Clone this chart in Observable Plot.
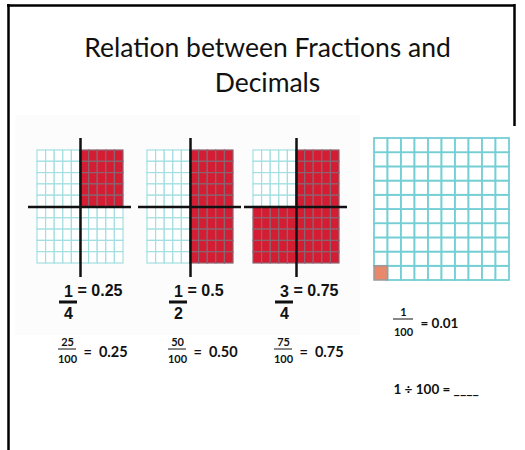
<!DOCTYPE html>
<html><head><meta charset="utf-8">
<script src="https://cdn.jsdelivr.net/npm/d3@7"></script>
<script src="https://cdn.jsdelivr.net/npm/@observablehq/plot@0.6"></script>
<style>html,body{margin:0;padding:0;background:#fff;} #chart svg{display:block}</style>
</head><body><div id="chart"></div>
<script>
// ---- data ----
const titleLines = ["Relation between Fractions and", "Decimals"];
const numerators = [1, 1, 3];
const denominators = [4, 2, 4];
const decimals = ["0.25", "0.5", "0.75"];
const hundredths = [25, 50, 75];
const hundredthDecimals = ["0.25", "0.50", "0.75"];
const shadedQuadrants = [["TR"], ["TR", "BR"], ["TR", "BR", "BL"]];
const bigNumerator = 1;
const bigDenominator = 100;
const bigDecimal = "0.01";
const bigShadedCells = 1;
const question = "1 ÷ 100 = ____";

// ---- layout ----
const W = 525, H = 450;
const small = {x0: [37, 147, 253], y0: 150, w: 86, h: 113, n: 10};
const big = {x0: 374, y0: 138, w: 135, h: 142, n: 10};

const panels = numerators.map((num, p) => ({
  p, num, den: denominators[p], dec: decimals[p], hund: hundredths[p], hdec: hundredthDecimals[p],
  x0: small.x0[p], cx: small.x0[p] + small.w / 2, cy: small.y0 + small.h / 2
}));

const cells = [];
panels.forEach(P => {
  const cw = small.w / small.n, ch = small.h / small.n;
  for (let j = 0; j < small.n; j++) for (let i = 0; i < small.n; i++) {
    const q = (j < small.n / 2 ? "T" : "B") + (i < small.n / 2 ? "L" : "R");
    cells.push({x1: P.x0 + i * cw, x2: P.x0 + (i + 1) * cw, y1: small.y0 + j * ch, y2: small.y0 + (j + 1) * ch,
      shaded: shadedQuadrants[P.p].includes(q)});
  }
});
const bigCells = [];
{
  const cw = big.w / big.n, ch = big.h / big.n;
  let k = 0;
  for (let j = big.n - 1; j >= 0; j--) for (let i = 0; i < big.n; i++) {
    bigCells.push({x1: big.x0 + i * cw, x2: big.x0 + (i + 1) * cw, y1: big.y0 + j * ch, y2: big.y0 + (j + 1) * ch,
      shaded: k++ < bigShadedCells});
  }
}

const boldNarrow = "'Liberation Sans Narrow', 'Arial Narrow', 'Liberation Sans', sans-serif";
const calib = "Lato, 'Open Sans', sans-serif";
const ink = "#111";

const plot = Plot.plot({
  width: W, height: H, margin: 0,
  x: {domain: [0, W], range: [0, W], axis: null},
  y: {domain: [0, H], range: [0, H], axis: null},
  style: {background: "#fff"},
  marks: [
    // faint backdrop behind the three small grids
    Plot.rect([{}], {x1: 15, x2: 360, y1: 115, y2: 335, fill: "#fcfcfc"}),
    // small grids
    Plot.rect(cells.filter(d => !d.shaded), {x1: "x1", x2: "x2", y1: "y1", y2: "y2", fill: "#fff", stroke: "#a3dfe2", strokeWidth: 1.2}),
    Plot.rect(cells.filter(d => d.shaded), {x1: "x1", x2: "x2", y1: "y1", y2: "y2", fill: "#d41c33", stroke: "#8a6470", strokeWidth: 1.2}),
    // axes through each small grid
    Plot.ruleX(panels, {x: "cx", y1: small.y0 - 12, y2: small.y0 + small.h + 14, stroke: ink, strokeWidth: 2.5}),
    Plot.ruleY(panels, {y: "cy", x1: d => d.x0 - 9, x2: d => d.x0 + small.w + 8, stroke: ink, strokeWidth: 2.5}),
    // big grid
    Plot.rect(bigCells.filter(d => !d.shaded), {x1: "x1", x2: "x2", y1: "y1", y2: "y2", fill: "#fff", stroke: "#74cfd5", strokeWidth: 1.8}),
    Plot.rect(bigCells.filter(d => d.shaded), {x1: "x1", x2: "x2", y1: "y1", y2: "y2", fill: "#e8896c", stroke: "#9a9a9a", strokeWidth: 1.5}),
    // title
    Plot.text(titleLines, {x: 267, y: (d, i) => 56 + i * 35, text: d => d, fontSize: 26.5, fontFamily: calib, lineAnchor: "bottom", fill: ink}),
    // row 1: simple fractions
    Plot.text(panels, {x: d => d.x0 + 31, y: 296, text: d => String(d.num), fontSize: 16, fontWeight: "bold", fontFamily: boldNarrow, lineAnchor: "bottom", fill: ink}),
    Plot.ruleY(panels, {y: 301.5, x1: d => d.x0 + 22, x2: d => d.x0 + 40, stroke: ink, strokeWidth: 3}),
    Plot.text(panels, {x: d => d.x0 + 31, y: 318, text: d => String(d.den), fontSize: 16, fontWeight: "bold", fontFamily: boldNarrow, lineAnchor: "bottom", fill: ink}),
    Plot.text(panels, {x: d => d.x0 + 40, y: 295, text: d => "= " + d.dec, textAnchor: "start", fontSize: 16, fontWeight: "bold", fontFamily: boldNarrow, lineAnchor: "bottom", fill: ink}),
    // row 2: hundredths
    Plot.text(panels, {x: d => d.x0 + 30, y: 345.5, text: d => String(d.hund), fontSize: 11, fontWeight: "bold", fontFamily: calib, lineAnchor: "bottom", fill: ink}),
    Plot.ruleY(panels, {y: 348.5, x1: d => d.x0 + 21, x2: d => d.x0 + 39, stroke: ink, strokeWidth: 1}),
    Plot.text(panels, {x: d => d.x0 + 30, y: 362, text: () => "100", fontSize: 11, fontWeight: "bold", fontFamily: calib, lineAnchor: "bottom", fill: ink}),
    Plot.text(panels, {x: d => d.x0 + 46, y: 356, text: d => "=\u00a0\u00a0" + d.hdec, textAnchor: "start", fontSize: 14.5, fontWeight: "bold", fontFamily: calib, lineAnchor: "bottom", fill: ink}),
    // right column
    Plot.text([bigNumerator], {x: 403, y: 315.5, text: d => String(d), fontSize: 11, fontWeight: "bold", fontFamily: calib, lineAnchor: "bottom", fill: ink}),
    Plot.ruleY([bigDenominator], {y: 318.5, x1: 393, x2: 413, stroke: ink, strokeWidth: 1}),
    Plot.text([bigDenominator], {x: 403, y: 335.5, text: d => String(d), fontSize: 11, fontWeight: "bold", fontFamily: calib, lineAnchor: "bottom", fill: ink}),
    Plot.text([bigDecimal], {x: 420, y: 327, text: d => "= " + d, textAnchor: "start", fontSize: 13.5, fontWeight: "bold", fontFamily: calib, lineAnchor: "bottom", fill: ink}),
    Plot.text([question], {x: 393, y: 393, text: d => d, textAnchor: "start", fontSize: 13.5, fontWeight: "bold", fontFamily: calib, lineAnchor: "bottom", fill: ink}),
    // slide frame
    Plot.ruleX([8], {x: d => d, y1: 4, y2: H, stroke: "#000", strokeWidth: 2.5}),
    Plot.ruleY([5], {y: d => d, x1: 7, x2: 515, stroke: "#000", strokeWidth: 2.5}),
    Plot.ruleX([514], {x: d => d, y1: 4, y2: 126, stroke: "#000", strokeWidth: 2.5})
  ]
});
document.getElementById("chart").appendChild(plot);
</script>
</body></html>
